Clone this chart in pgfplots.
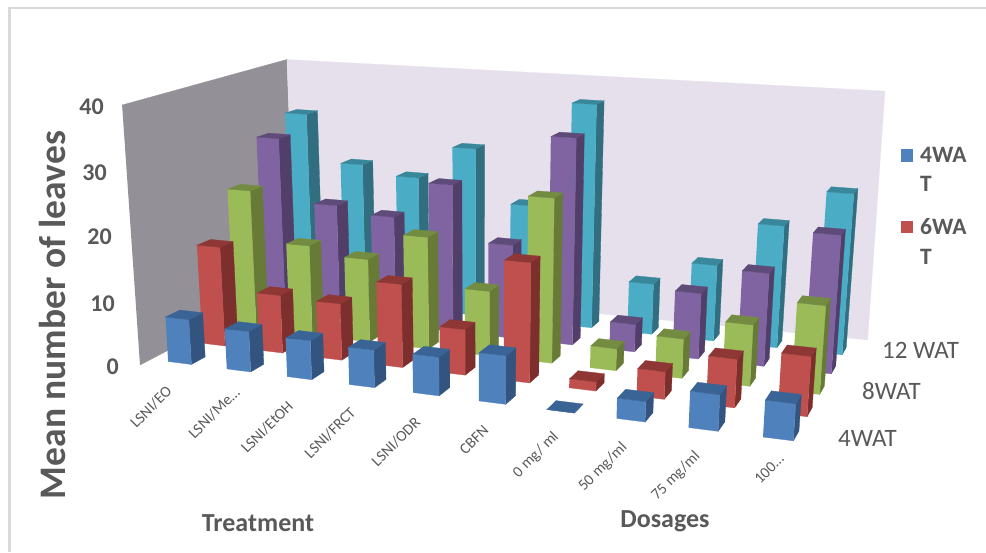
\documentclass[border=0pt]{standalone}
\usepackage{fontspec}
\setmainfont{Carlito}
\usepackage{pgfplots}
\usepackage{pgfplotstable}
\pgfplotsset{compat=1.18}

% Mean number of leaves per treatment and dosage, one column per week after treatment
\pgfplotstableread{
cat wk4   wk6   wk8   wk10  wk12
0   7.2   16.2  23.2  30.0  32.5
1   6.4   9.4   15.0  19.5  24.5
2   6.1   9.1   13.7  18.4  23.0
3   5.8   13.2  18.2  24.5  28.6
4   5.9   7.2   10.5  15.5  19.8
5   7.3   18.5  26.0  33.4  37.1
6   0.0   1.4   3.5   4.5   8.5
7   3.0   4.2   6.2   10.6  12.6
8   5.3   7.3   9.5   14.8  19.9
9   5.3   8.9   13.5  21.6  25.8
}\leaves

\definecolor{txt}{HTML}{595959}
\definecolor{wallL}{HTML}{949098}\definecolor{wallB}{HTML}{E6E0EC}
\definecolor{blueF}{HTML}{4F81BD}\definecolor{blueS}{HTML}{33547F}\definecolor{blueT}{HTML}{3B6496}
\definecolor{redF}{HTML}{C0504D}\definecolor{redS}{HTML}{7D2F2D}\definecolor{redT}{HTML}{8E3735}
\definecolor{greenF}{HTML}{9BBB59}\definecolor{greenS}{HTML}{677B37}\definecolor{greenT}{HTML}{748C42}
\definecolor{purpleF}{HTML}{8064A2}\definecolor{purpleS}{HTML}{523F69}\definecolor{purpleT}{HTML}{5F4B79}
\definecolor{cyanF}{HTML}{4BACC6}\definecolor{cyanS}{HTML}{306E80}\definecolor{cyanT}{HTML}{38879B}

% Perspective view: s along the categories, t along the depth (both 0..1), z the value
\newcommand\projpt[3]{%
  \pgfmathsetmacro\pw{1-0.14*#1+0.186*#2-0.05*(#3)/40}%
  \pgfmathsetmacro\px{(558.7*#1+209.9*#2+140-24*(#3)/40)/\pw}%
  \pgfmathsetmacro\py{(23.3*#1-28.2*#2+365-265.25*(#3)/40)/\pw}%
}
\def\projptlist#1/#2/#3\relax{\projpt{#1}{#2}{#3}}
% One filled quadrilateral given four s/t/z corners
\newcommand\addface[5]{%
  \gdef\coords{}%
  \foreach \c in {#2,#3,#4,#5}{%
    \expandafter\projptlist\c\relax
    \xdef\coords{\coords(\px,\py)}%
  }%
  \edef\cmd{\noexpand\addplot[fill=#1,draw=#1,line width=0.3pt,forget plot] coordinates {\coords};}%
  \cmd
}
% One bar: column index, row index, value, colour stem
\newcommand\addbar[4]{%
  \pgfmathsetmacro\sa{(#1+0.3)/10}\pgfmathsetmacro\sb{(#1+0.7)/10}%
  \pgfmathsetmacro\ta{(#2+0.3)/5}\pgfmathsetmacro\tb{(#2+0.7)/5}%
  \edef\facecmd{%
    \noexpand\addface{#4S}{\sb/\ta/0}{\sb/\tb/0}{\sb/\tb/#3}{\sb/\ta/#3}%
    \noexpand\addface{#4F}{\sa/\ta/0}{\sb/\ta/0}{\sb/\ta/#3}{\sa/\ta/#3}%
    \noexpand\addface{#4T}{\sa/\ta/#3}{\sb/\ta/#3}{\sb/\tb/#3}{\sa/\tb/#3}%
  }%
  \facecmd
}
% One row of bars, drawn from the far side inwards
\newcommand\addrow[3]{%
  \foreach \i in {9,8,7,6,5,4,3,2,1,0}{%
    \pgfplotstablegetelem{\i}{#2}\of\leaves
    \edef\v{\pgfplotsretval}%
    \addbar{\i}{#1}{\v}{#3}%
  }%
}
\tikzset{lbl/.style={text=txt,inner sep=0pt}}
% Slanted category label
\newcommand\catlabel[3]{\node[lbl,rotate=45,font=\fontsize{15.5}{15.5}\selectfont] at (axis cs:#1,#2) {#3};}
% Value label, following the slant of the wall edge
\newcommand\valuelabel[3]{\node[lbl,anchor=east,font=\fontsize{24}{24}\selectfont\bfseries] at (axis cs:#1,#2) {#3};}

\begin{document}
\begin{tikzpicture}[x=1pt,y=1pt]
\path[use as bounding box] (0,0) rectangle (986,552);
\begin{axis}[
  at={(0,0)},anchor=south west,
  scale only axis,width=986pt,height=552pt,
  xmin=0,xmax=986,ymin=0,ymax=552,y dir=reverse,
  hide axis,clip=false,
]
% Chart frame, left and top edges
\addplot[draw=black!15,line width=2.5pt,forget plot] coordinates {(9.5,552)(9.5,8)(986,8)};
% Walls
\addface{wallL}{0/0/0}{0/1/0}{0/1/40.6}{0/0/40}
\addface{wallB}{0/1/0}{0.998/1/0.7}{0.995/1/40.6}{0/1/40.6}
% Bars, back row first
\addrow{4}{wk12}{cyan}
\addrow{3}{wk10}{purple}
\addrow{2}{wk8}{green}
\addrow{1}{wk6}{red}
\addrow{0}{wk4}{blue}
% Value axis
\valuelabel{104}{107}{40}
\valuelabel{107}{173}{30}
\valuelabel{112}{237}{20}
\valuelabel{115}{304}{10}
\valuelabel{119}{367}{0}
\node[lbl,rotate=90,font=\fontsize{37.5}{37.5}\selectfont\bfseries] at (axis cs:52,315) {Mean number of leaves};
% Category labels
\catlabel{151}{407}{LSNI/EO}
\catlabel{214}{413}{LSNI/Me\ldots}
\catlabel{267}{427}{LSNI/EtOH}
\catlabel{330}{433}{LSNI/FRCT}
\catlabel{396}{442}{LSNI/ODR}
\catlabel{474}{440}{CBFN}
\catlabel{536}{455}{0 mg/ ml}
\catlabel{603}{467}{50 mg/ml}
\catlabel{676}{476}{75 mg/ml}
\catlabel{769}{469}{100\ldots}
\node[lbl,font=\fontsize{26}{26}\selectfont\bfseries] at (axis cs:258,523) {Treatment};
\node[lbl,font=\fontsize{26}{26}\selectfont\bfseries] at (axis cs:665,521) {Dosages};
% Depth labels
\node[lbl,anchor=west,font=\fontsize{25}{25}\selectfont] at (axis cs:882,350) {12 WAT};
\node[lbl,anchor=west,font=\fontsize{25}{25}\selectfont] at (axis cs:862,391) {8WAT};
\node[lbl,anchor=west,font=\fontsize{25}{25}\selectfont] at (axis cs:838,438) {4WAT};
% Legend
\addplot[fill=blueF,draw=none,forget plot] coordinates {(901,149)(913,149)(913,162)(901,162)};
\addplot[fill=redF,draw=none,forget plot] coordinates {(901,221)(913,221)(913,233)(901,233)};
\node[lbl,anchor=west,font=\fontsize{23.5}{23.5}\selectfont\bfseries] at (axis cs:920,155) {4WA};
\node[lbl,anchor=west,font=\fontsize{23.5}{23.5}\selectfont\bfseries] at (axis cs:920,184) {T};
\node[lbl,anchor=west,font=\fontsize{23.5}{23.5}\selectfont\bfseries] at (axis cs:920,227) {6WA};
\node[lbl,anchor=west,font=\fontsize{23.5}{23.5}\selectfont\bfseries] at (axis cs:920,257) {T};
\end{axis}
\end{tikzpicture}
\end{document}
